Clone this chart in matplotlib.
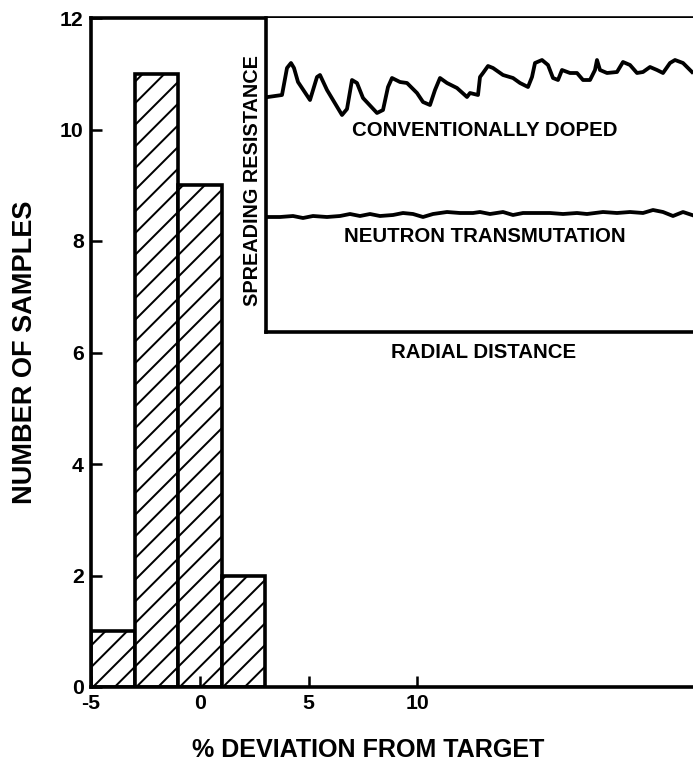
import matplotlib
matplotlib.use("Agg")
import matplotlib.pyplot as plt

# histogram of % deviation from target
bin_edges = [-5, -3, -1, 1, 3]
counts = [1, 11, 9, 2]
x_ticks = [-5, 0, 5, 10]
y_ticks = [0, 2, 4, 6, 8, 10, 12]

# spreading resistance profiles (arbitrary units) vs radial distance
radial_doped = [2, 16, 21, 25, 28, 32, 44, 51, 54, 61, 76, 81, 86, 91, 97, 111, 117, 122, 126, 134,
                141, 151, 157, 164, 169, 174, 181, 191, 201, 204, 212, 214, 217, 222, 227, 237, 247,
                254, 262, 266, 269, 276, 282, 287, 292, 296, 304, 311, 317, 324, 329, 331, 334, 341,
                351, 357, 364, 371, 377, 384, 391, 397, 404, 409, 417, 426]
resist_doped = [235, 237, 264, 269, 264, 250, 232, 255, 257, 242, 217, 223, 252, 249, 234, 219, 222,
                245, 254, 250, 249, 239, 230, 227, 242, 254, 249, 244, 235, 239, 237, 255, 259, 266,
                264, 257, 254, 249, 245, 255, 269, 272, 267, 254, 252, 262, 259, 259, 252, 252, 262,
                272, 262, 259, 260, 270, 267, 259, 260, 265, 262, 259, 269, 272, 269, 260]
radial_ntd = [1, 14, 27, 37, 47, 61, 74, 84, 94, 104, 114, 127, 137, 147, 157, 167, 181, 194, 207,
              214, 224, 237, 247, 257, 271, 284, 297, 311, 321, 337, 351, 364, 377, 387, 397, 407,
              417, 426]
resist_ntd = [115, 115, 116, 114, 116, 115, 116, 118, 116, 118, 116, 117, 119, 118, 115, 118, 120,
              119, 119, 120, 118, 120, 117, 119, 119, 119, 118, 119, 118, 120, 119, 120, 119, 122,
              120, 116, 120, 117]

W, H, DPI = 693, 774, 130
plt.rcParams['font.family'] = ['Liberation Sans', 'DejaVu Sans']
plt.rcParams['font.weight'] = 'bold'
plt.rcParams['hatch.linewidth'] = 1.1
plt.rcParams['axes.unicode_minus'] = False

fig = plt.figure(figsize=(W / DPI, H / DPI), dpi=DPI)

def px(x, y):
    return x / W, 1 - y / H

# main histogram axes
ax = fig.add_axes([91 / W, 1 - 687 / H, (700 - 91) / W, (687 - 18) / H])
widths = [b - a for a, b in zip(bin_edges[:-1], bin_edges[1:])]
ax.bar(bin_edges[:-1], counts, width=widths, align='edge', facecolor='white',
       edgecolor='black', linewidth=2.0, hatch='//')
ax.set_xlim(-5, 23)
ax.set_ylim(0, 12)
ax.set_xticks(x_ticks)
ax.set_yticks(y_ticks)
ax.tick_params(direction='in', length=6, width=1.4, labelsize=11.8, pad=4)
for s in ['left', 'bottom', 'top']:
    ax.spines[s].set_linewidth(2.0)
ax.spines['right'].set_visible(False)

# inset with resistance traces
ins = fig.add_axes([266 / W, 1 - 332 / H, (700 - 266) / W, (332 - 18) / H])
ins.plot(radial_doped, resist_doped, color='black', lw=2.1, solid_joinstyle='round')
ins.plot(radial_ntd, resist_ntd, color='black', lw=2.1, solid_joinstyle='round')
ins.set_xlim(0, 434)
ins.set_ylim(0, 314)
ins.set_xticks([])
ins.set_yticks([])
for s in ['left', 'bottom']:
    ins.spines[s].set_linewidth(2.0)
ins.spines['right'].set_visible(False)
ins.spines['top'].set_visible(False)

ins.text((485 - 266) / 434, (332 - 130) / 314, 'CONVENTIONALLY DOPED',
         transform=ins.transAxes, ha='center', va='center', fontsize=11.3)
ins.text((485 - 266) / 434, (332 - 237) / 314, 'NEUTRON TRANSMUTATION',
         transform=ins.transAxes, ha='center', va='center', fontsize=11.3)

fig.text(*px(253, 181), 'SPREADING RESISTANCE', rotation=90, ha='center', va='center', fontsize=11)
fig.text(*px(484, 352), 'RADIAL DISTANCE', ha='center', va='center', fontsize=11.3)
fig.text(*px(25, 352), 'NUMBER OF SAMPLES', rotation=90, ha='center', va='center', fontsize=15)
fig.text(*px(368, 750), '% DEVIATION FROM TARGET', ha='center', va='center', fontsize=13.9)

fig.savefig('out.png', dpi=DPI)
